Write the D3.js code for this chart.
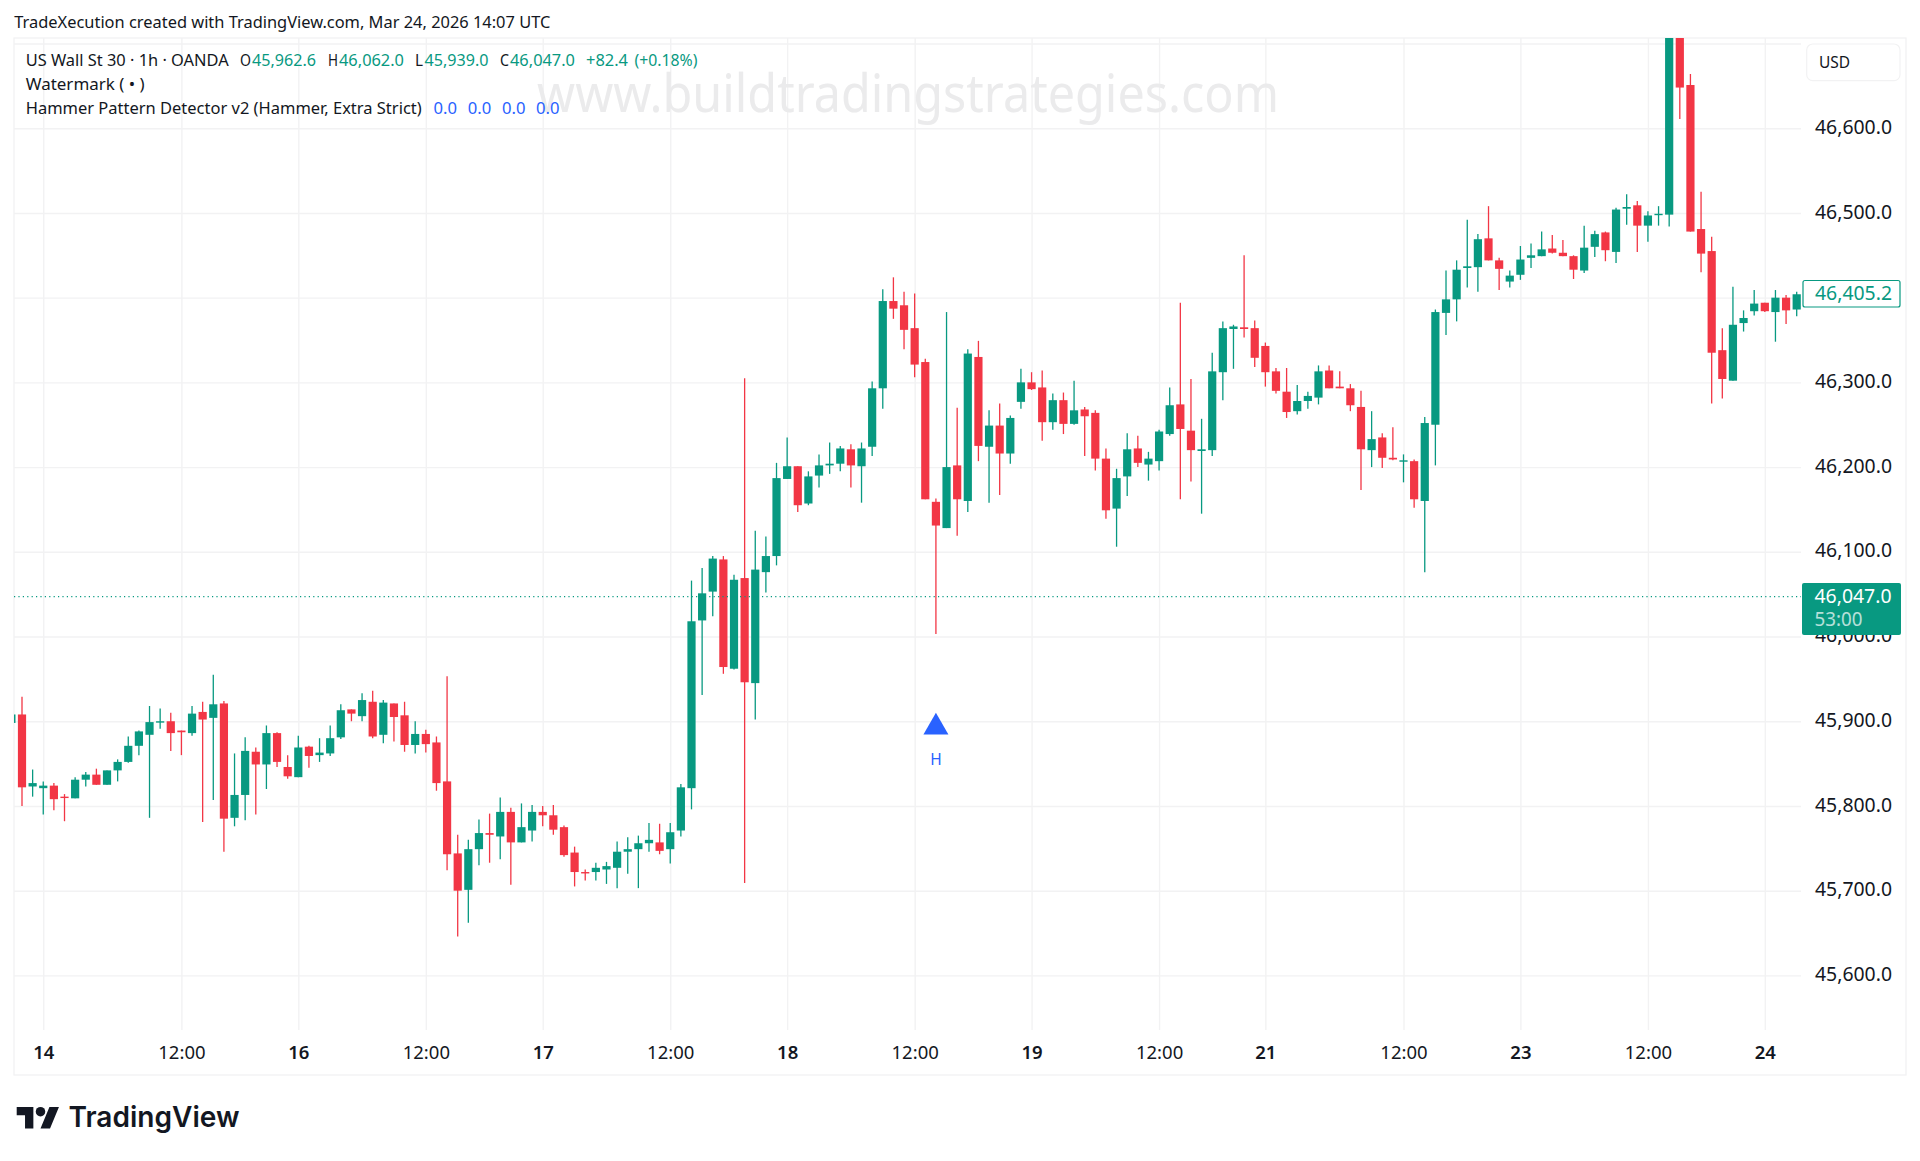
<!DOCTYPE html>
<html>
<head>
<meta charset="utf-8">
<script src="https://cdnjs.cloudflare.com/ajax/libs/d3/7.9.0/d3.min.js"></script>
<style>html,body{margin:0;padding:0;background:#fff;}svg{display:block;}text{font-family:"Noto Sans",sans-serif;}</style>
</head>
<body>
<div id="chart"></div>
<script>
const opens = [45898,
45908,45823,45821,45824,45811,45809,45831,45837,45825,45842,45852,45871,45884,45899,45900,45889,45886,45911,45904,45921,45786,45813,45864,45849,45886,45846,45834,45870,45860,45862,45881,45914,45906,45923,45884,45921,
45907,45872,45885,45875,45829,45744,45701,45749,45768,45764,45793,45757,45771,45793,45789,45775,45745,45722,45722,45725,45727,45746,45749,45756,45757,45749,45771,45821,46019,46053,46091,45962,46069,45945,
46076,46095,46186,46201,46157,46190,46202,46204,46221,46201,46224,46293,46396,46391,46364,46324,46159,46128,46202,46160,46330,46224,46249,46216,46277,46300,46294,46253,46279,46251,
46268,46264,46210,46151,46189,46222,46203,46207,46239,46274,46243,46219,46220,46312,46363,46365,46364,46343,46313,46289,46266,46278,46282,46314,46295,46293,46271,46220,46235,46211,
46207,46207,46160,46250,46382,46398,46435,46436,46470,46444,46419,46427,46447,46449,46458,46453,46449,46432,46460,46477,46454,46505,46509,46485,46498,46498,46760,46651,46481,46455,46338,46302,46370,46384,46394,46383,46400,46386];
const highs = [45908,
45929,45843,45829,45827,45814,45834,45840,45844,45842,45855,45882,45889,45918,45915,45910,45889,45918,45923,45955,45924,45862,45881,45869,45895,45887,45860,45883,45871,45880,45895,45920,45914,45933,45936,45925,45921,
45923,45900,45890,45882,45953,45766,45760,45784,45791,45810,45798,45803,45801,45800,45801,45777,45752,45725,45733,45734,45758,45763,45765,45780,45779,45780,45826,46066,46081,46095,46095,46073,46305,46125,
46118,46205,46235,46201,46195,46215,46229,46225,46227,46229,46301,46410,46424,46407,46405,46328,46163,46383,46270,46339,46349,46267,46275,46261,46316,46312,46314,46287,46288,46302,
46271,46267,46222,46198,46240,46237,46218,46244,46294,46394,46304,46257,46335,46372,46368,46450,46373,46347,46317,46317,46297,46289,46320,46320,46313,46298,46290,46266,46240,46247,
46215,46209,46259,46386,46432,46444,46492,46475,46508,46447,46432,46461,46464,46478,46474,46468,46450,46485,46479,46478,46506,46522,46514,46502,46508,46790,46780,46664,46525,46472,46364,46413,46385,46409,46394,46409,46403,46407];
const lows = [45898,
45800,45811,45790,45795,45782,45809,45823,45825,45825,45829,45851,45860,45786,45891,45865,45860,45883,45781,45807,45746,45776,45783,45790,45820,45846,45832,45834,45845,45852,45859,45879,45900,45900,45880,45874,45876,
45864,45862,45863,45818,45724,45646,45662,45730,45733,45737,45707,45757,45758,45776,45766,45740,45705,45712,45712,45708,45703,45720,45703,45746,45743,45732,45764,45796,45931,46024,45956,45961,45709,45902,
46052,46084,46186,46147,46155,46176,46192,46195,46176,46158,46213,46269,46375,46339,46306,46162,46003,46128,46119,46147,46207,46158,46167,46204,46269,46291,46231,46244,46239,46250,
46213,46196,46139,46106,46166,46200,46184,46196,46237,46162,46183,46145,46213,46279,46316,46353,46318,46295,46287,46258,46262,46269,46274,46293,46293,46266,46173,46200,46199,46208,
46182,46152,46076,46202,46356,46372,46412,46407,46444,46409,46412,46421,46435,46449,46452,46449,46422,46429,46448,46443,46441,46486,46454,46466,46485,46484,46611,46478,46430,46275,46281,46302,46360,46379,46383,46348,46369,46378];
const closes = [45908,
45822,45827,45824,45808,45810,45831,45837,45825,45842,45852,45871,45888,45899,45900,45886,45887,45909,45902,45920,45785,45813,45865,45849,45886,45852,45835,45869,45859,45863,45880,45913,45909,45925,45882,45922,45905,
45872,45885,45873,45827,45743,45700,45749,45768,45766,45793,45757,45775,45793,45789,45772,45742,45722,45721,45727,45729,45746,45749,45756,45760,45747,45769,45822,46018,46051,46092,45964,46067,45946,46079,
46095,46187,46201,46155,46189,46202,46204,46222,46202,46222,46293,46396,46387,46362,46321,46162,46131,46200,46162,46334,46225,46249,46216,46258,46300,46292,46253,46279,46251,46267,
46260,46210,46149,46187,46221,46205,46210,46242,46273,46245,46220,46221,46313,46364,46366,46363,46329,46312,46290,46265,46278,46284,46313,46293,46293,46273,46221,46233,46211,46209,
46208,46162,46252,46383,46398,46433,46437,46469,46444,46434,46426,46445,46450,46457,46453,46449,46433,46459,46475,46456,46504,46507,46485,46497,46499,46750,46648,46478,46452,46335,46304,46368,46376,46393,46384,46400,46385,46404];

// Index of the first bar in the arrays is -1 (the bar cut off by the left edge).
const firstBar = -1;
const priceTicks = [46600,46500,46400,46300,46200,46100,46000,45900,45800,45700,45600];
const priceGrid = [46700,46600,46500,46400,46300,46200,46100,46000,45900,45800,45700,45600];
const timeTickBars = [2,15,26,38,49,61,72,84,95,107,117,130,141,153,164];
const timeTickLabels = ["14","12:00","16","12:00","17","12:00","18","12:00","19","12:00","21","12:00","23","12:00","24"];
const hammerBars = [86];
const hammerMarkerPrice = 45893;
const lastPrice = 46047.0;
const markPrice = 46405.2;

const GREEN = "#089981", RED = "#F23645", BLUE = "#2962FF", INK = "#131722", GRID = "#f2f2f3";
const pane = {left:14, top:38, right:1801, bottom:1030};

const x = d3.scaleLinear().domain([0,167]).range([22,1796.7]);
const y = d3.scaleLinear().domain([45600,46700]).range([975.4,43.5]);

const svg = d3.select("#chart").append("svg").attr("width",1920).attr("height",1161);
svg.append("rect").attr("width",1920).attr("height",1161).attr("fill","#fff");
svg.append("defs").append("clipPath").attr("id","pane").append("rect")
  .attr("x",pane.left).attr("y",pane.top).attr("width",pane.right-pane.left).attr("height",pane.bottom-pane.top);

// frame
svg.append("rect").attr("x",14).attr("y",38).attr("width",1892).attr("height",1037)
  .attr("fill","none").attr("stroke",GRID).attr("stroke-width",1.3);

// grid
const hGrid = svg.append("g").attr("transform",`translate(${pane.left},0)`)
  .call(d3.axisRight(y).tickValues(priceGrid).tickSize(pane.right-pane.left).tickFormat(""));
const vGrid = svg.append("g").attr("transform",`translate(0,${pane.top})`)
  .call(d3.axisBottom(x).tickValues(timeTickBars).tickSize(pane.bottom-pane.top).tickFormat(""));
[hGrid,vGrid].forEach(g=>{g.select(".domain").remove();g.selectAll("line").attr("stroke",GRID).attr("stroke-width",1.4);});

// watermark
function label(t,xp,yp,o={}){
  const s = svg.append("text").text(t).attr("x",xp).attr("y",yp)
    .attr("font-size",o.size||16).attr("fill",o.fill||INK)
    .attr("font-weight",o.weight||400).attr("text-anchor",o.anchor||"start");
  if(o.font) s.style("font-family",o.font);
  if(o.width) s.attr("textLength",o.width).attr("lengthAdjust","spacingAndGlyphs");
  if(o.opacity) s.attr("opacity",o.opacity);
  return s;
}
label("www.buildtradingstrategies.com",537,112,{size:52,fill:"#ebebec",width:742});

// candles
const bars = d3.range(opens.length);
const xi = i => x(i+firstBar);
const col = i => closes[i]>=opens[i]?GREEN:RED;
const plot = svg.append("g").attr("clip-path","url(#pane)");
plot.selectAll("line.wick").data(bars).join("line").attr("class","wick")
  .attr("x1",xi).attr("x2",xi).attr("y1",i=>y(highs[i])).attr("y2",i=>y(lows[i]))
  .attr("stroke",col).attr("stroke-width",1.3);
plot.selectAll("rect.body").data(bars).join("rect").attr("class","body")
  .attr("x",i=>xi(i)-4.1).attr("width",8.2)
  .attr("y",i=>y(Math.max(opens[i],closes[i])))
  .attr("height",i=>Math.max(1.4,Math.abs(y(opens[i])-y(closes[i]))))
  .attr("fill",col);

// last price line
plot.append("line").attr("x1",pane.left).attr("x2",pane.right).attr("y1",y(lastPrice)).attr("y2",y(lastPrice))
  .attr("stroke",GREEN).attr("stroke-width",1.2).attr("stroke-dasharray","1.2 3.2");

// hammer marker
const tri = d3.symbol().type(d3.symbolTriangle).size(270);
plot.selectAll("path.hammer").data(hammerBars).join("path").attr("class","hammer")
  .attr("d",tri()).attr("fill",BLUE)
  .attr("transform",b=>`translate(${x(b)},${y(hammerMarkerPrice)})`);
plot.selectAll("text.hammer").data(hammerBars).join("text").attr("class","hammer").text("H")
  .attr("x",b=>x(b)).attr("y",765).attr("text-anchor","middle").attr("font-size",15.5).attr("fill",BLUE);

// header + legend
label("TradeXecution created with TradingView.com, Mar 24, 2026 14:07 UTC",14.3,28,{size:16,width:536});
label("US Wall St 30 · 1h · OANDA",25.7,65.5,{size:16,width:203});
[["O",240,11],["H",328,10],["L",415,8],["C",500,9]].forEach(([t,a,w])=>label(t,a,65.5,{size:16,width:w}));
[["45,962.6",252,64],["46,062.0",339,65],["45,939.0",424.5,64],["46,047.0",510,65],["+82.4",586,42],["(+0.18%)",634.4,63]]
  .forEach(([t,a,w])=>label(t,a,65.5,{size:16,fill:GREEN,width:w}));
label("Watermark ( • )",25.7,90,{size:16,width:119});
label("Hammer Pattern Detector v2 (Hammer, Extra Strict)",25.7,113.5,{size:16,width:396});
[433.5,467.8,502,536].forEach(a=>label("0.0",a,113.5,{size:16,fill:BLUE,width:23.5}));

// price axis
const yAxis = svg.append("g").attr("transform","translate(1815,-1)")
  .call(d3.axisRight(y).tickValues(priceTicks).tickSize(0).tickPadding(0).tickFormat(d=>d3.format(",.1f")(d)));
yAxis.select(".domain").remove();
yAxis.selectAll("text").attr("font-size",19).attr("fill",INK).style("font-family",'"Noto Sans",sans-serif')
  .attr("textLength",77).attr("lengthAdjust","spacingAndGlyphs");

// time axis
const xAxis = svg.append("g").attr("transform","translate(0,1045.8)")
  .call(d3.axisBottom(x).tickValues(timeTickBars).tickSize(0).tickPadding(0).tickFormat((d,i)=>timeTickLabels[i]));
xAxis.select(".domain").remove();
xAxis.selectAll("text").attr("font-size",18.5).attr("fill",INK).style("font-family",'"Noto Sans",sans-serif')
  .attr("font-weight",(d,i)=>timeTickLabels[i].includes(":")?400:600);

// USD button
svg.append("rect").attr("x",1806.7).attr("y",44).attr("width",93.3).attr("height",36.7).attr("rx",6)
  .attr("fill","#fff").attr("stroke",GRID).attr("stroke-width",1.2);
label("USD",1819,67.5,{size:15.5});

// mark price tag
svg.append("rect").attr("x",1803).attr("y",280.5).attr("width",97).attr("height",26.5).attr("rx",2)
  .attr("fill","#fff").attr("stroke",GREEN).attr("stroke-width",1.2);
label(d3.format(",.1f")(markPrice),1815,299.5,{size:19,fill:GREEN,width:77});

// last price tag
svg.append("rect").attr("x",1802).attr("y",583).attr("width",99).attr("height",52).attr("rx",2).attr("fill",GREEN);
label(d3.format(",.1f")(lastPrice),1814.5,602.5,{size:19,fill:"#fff",width:77});
label("53:00",1814.5,625.5,{size:19,fill:"#fff",width:48,opacity:0.7});

// logo
const logo = svg.append("g").attr("transform","translate(16.7,1102.2) scale(1.19)").attr("fill","#131722");
logo.append("path").attr("d","M14 22H7V11H0V4h14v18zM28 22h-8l7.5-18h8L28 22z");
logo.append("circle").attr("cx",20).attr("cy",8).attr("r",4);
label("TradingView",68.5,1127,{size:29,weight:600,fill:"#131722",width:171,font:'Inter,sans-serif'});
</script>
</body>
</html>
